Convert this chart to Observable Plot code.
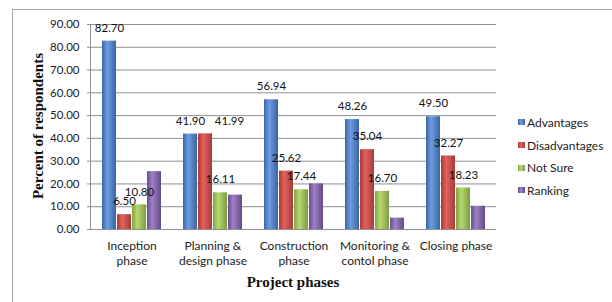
<!DOCTYPE html>
<html>
<head>
<meta charset="utf-8">
<script src="https://cdn.jsdelivr.net/npm/d3@7"></script>
<script src="https://cdn.jsdelivr.net/npm/@observablehq/plot@0.6"></script>
<style>
  html, body { margin: 0; padding: 0; background: #fff; }
  #wrap { position: relative; width: 612px; height: 302px; overflow: hidden; background: #fff; }
  #border { position: absolute; left: 12px; top: 9px; width: 620px; height: 320px; border: 1px solid #a6a6a6; box-sizing: border-box; }
  #chart { position: absolute; left: 0; top: 0; }
  .title { position: absolute; font-family: "Liberation Serif", "Times New Roman", serif; font-weight: bold; font-size: 15px; color: #111; white-space: nowrap; }
  #ytitle { left: 38px; top: 126px; transform: translate(-50%, -50%) rotate(-90deg); }
  #xtitle { left: 293px; top: 282px; transform: translate(-50%, -50%); }
  #legend { position: absolute; left: 518px; top: 111px; font-family: Lato, sans-serif; font-size: 12px; color: #222; }
  #legend .item { display: flex; align-items: center; height: 22.7px; }
  #legend .sw { width: 7px; height: 6px; margin-right: 2px; }
</style>
</head>
<body>
<svg width="0" height="0" style="position:absolute">
  <defs id="grads"></defs>
</svg>
<div id="wrap">
  <div id="border"></div>
  <div id="chart"></div>
  <div class="title" id="ytitle">Percent of respondents</div>
  <div class="title" id="xtitle">Project phases</div>
  <div id="legend"></div>
</div>
<script>
// ---- data ----
const phases = ["Inception phase", "Planning & design phase", "Construction phase", "Monitoring & contol phase", "Closing phase"];
const phaseLabels = ["Inception\nphase", "Planning &\ndesign phase", "Construction\nphase", "Monitoring &\ncontol phase", "Closing phase"];
const series = ["Advantages", "Disadvantages", "Not Sure", "Ranking"];
const advantages    = [82.70, 41.90, 56.94, 48.26, 49.50];
const disadvantages = [6.50, 41.99, 25.62, 35.04, 32.27];
const notSure       = [10.80, 16.11, 17.44, 16.70, 18.23];
const ranking       = [25.4, 15.1, 20.0, 5.0, 10.2];   // unlabelled in the original
const labelledSeries = ["Advantages", "Disadvantages", "Not Sure"];
const yTicks = [0, 10, 20, 30, 40, 50, 60, 70, 80, 90];

// ---- styling ----
const gradStops = [
  ["#3a66a6", "#6c9de0", "#3a64a2"],
  ["#a93a37", "#e2625e", "#a53b38"],
  ["#82a445", "#b6d870", "#7c9c40"],
  ["#694f8e", "#9e80c6", "#634a87"]
];

const defs = d3.select("#grads");
gradStops.forEach((st, i) => {
  const g = defs.append("linearGradient").attr("id", "grad" + i)
    .attr("x1", "0").attr("y1", "0").attr("x2", "1").attr("y2", "0");
  g.append("stop").attr("offset", "0%").attr("stop-color", st[0]);
  g.append("stop").attr("offset", "38%").attr("stop-color", st[1]);
  g.append("stop").attr("offset", "100%").attr("stop-color", st[2]);
});

const valuesBySeries = [advantages, disadvantages, notSure, ranking];
const data = phases.flatMap((p, i) => series.map((s, j) => ({phase: p, series: s, value: valuesBySeries[j][i]})));
const labels = data.filter(d => labelledSeries.includes(d.series));
// In the original, the Planning "Disadvantages" label was dragged aside to avoid overlapping its neighbour.
const isMoved = d => d.phase === phases[1] && d.series === "Disadvantages";

const margin = {left: 90, right: 116, top: 24, bottom: 73};

const chart = Plot.plot({
  width: 612,
  height: 302,
  marginLeft: margin.left,
  marginRight: margin.right,
  marginTop: margin.top,
  marginBottom: margin.bottom,
  style: {fontFamily: "Lato, sans-serif", fontSize: "11.5px", color: "#222", background: "transparent", overflow: "visible"},
  fx: {domain: phases, padding: 0, label: null},
  x: {domain: series, paddingInner: 0.05, paddingOuter: 0.66, axis: null},
  y: {domain: [0, 90], axis: null},
  color: {domain: series, range: series.map((s, i) => `url(#grad${i})`)},
  marks: [
    Plot.ruleY(yTicks, {stroke: "#8f8f8f", strokeWidth: 1}),
    Plot.axisY({ticks: yTicks, tickFormat: d3.format(".2f"), tickSize: 4, tickPadding: 8, stroke: "#8f8f8f", fill: "#222", label: null}),
    Plot.axisFx({anchor: "bottom", tickFormat: d => phaseLabels[phases.indexOf(d)], tickSize: 0, tickPadding: 10, fontSize: 12, lineHeight: 1.25, label: null}),
    Plot.barY(data, {fx: "phase", x: "series", y: "value", fill: "series"}),
    Plot.text(labels.filter(d => !isMoved(d)), {fx: "phase", x: "series", y: "value", text: d => d.value.toFixed(2), dy: -13, lineAnchor: "middle", fill: "#111"}),
    Plot.text(labels.filter(isMoved), {fx: "phase", x: "series", y: "value", text: d => d.value.toFixed(2), dx: 24, dy: -13, lineAnchor: "middle", fill: "#111"})
  ]
});

// vertical value-axis line, placed with the plot's own y scale
const ys = chart.scale("y");
d3.select(chart).append("line")
  .attr("x1", margin.left + 0.5).attr("x2", margin.left + 0.5)
  .attr("y1", ys.apply(0)).attr("y2", ys.apply(90))
  .attr("stroke", "#8f8f8f");

document.getElementById("chart").appendChild(chart);

// legend
const legend = d3.select("#legend");
series.forEach((s, i) => {
  const it = legend.append("div").attr("class", "item");
  it.append("div").attr("class", "sw")
    .style("background", `linear-gradient(to right, ${gradStops[i][0]}, ${gradStops[i][1]} 40%, ${gradStops[i][2]})`);
  it.append("span").text(s);
});
</script>
</body>
</html>
